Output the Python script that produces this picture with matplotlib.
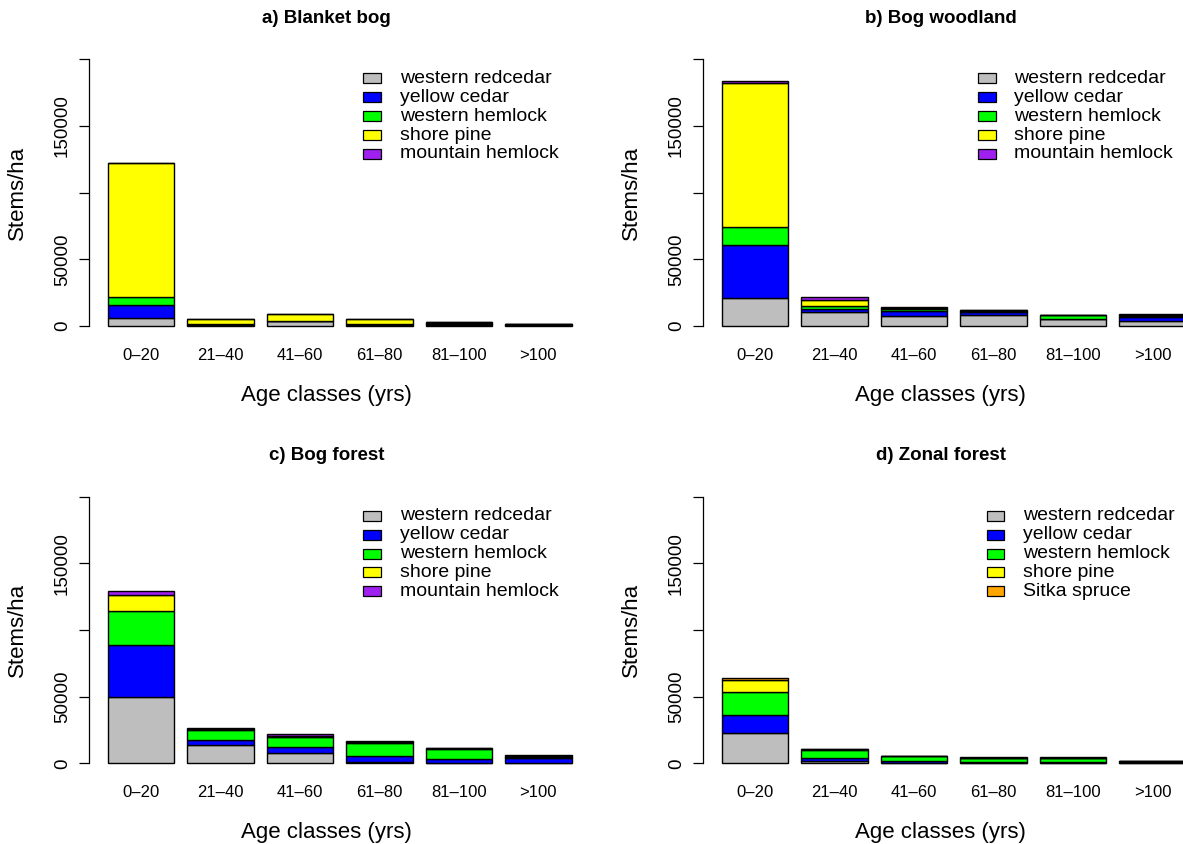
import matplotlib
matplotlib.use("Agg")
import matplotlib.pyplot as plt
from matplotlib.patches import Rectangle

plt.rcParams["font.family"] = ["Liberation Sans", "DejaVu Sans"]

W, H = 1183, 844

age_classes = ["0\u201320", "21\u201340", "41\u201360", "61\u201380", "81\u2013100", ">100"]

# stems/ha per age class, stacked bottom -> top
a_redcedar = [6000, 700, 3500, 700, 800, 500]
a_yellowcedar = [10000, 700, 300, 700, 700, 400]
a_hemlock = [6000, 400, 300, 400, 700, 400]
a_pine = [100000, 3300, 4600, 3400, 500, 200]
a_mtnhemlock = [500, 100, 50, 50, 50, 0]

b_redcedar = [21250, 10300, 7300, 8500, 5000, 3500]
b_yellowcedar = [39500, 2500, 4200, 2200, 500, 3500]
b_hemlock = [13500, 2000, 1500, 600, 2500, 700]
b_pine = [108000, 5000, 600, 400, 300, 800]
b_mtnhemlock = [1250, 2000, 700, 500, 200, 700]

c_redcedar = [49500, 13500, 8000, 1000, 250, 500]
c_yellowcedar = [39000, 4250, 4500, 4250, 2750, 3250]
c_hemlock = [26000, 7000, 7250, 10000, 8000, 1250]
c_pine = [11500, 700, 1000, 700, 300, 500]
c_mtnhemlock = [3000, 800, 1000, 800, 200, 500]

d_redcedar = [23000, 2000, 500, 250, 500, 500]
d_yellowcedar = [13250, 1750, 1250, 750, 500, 500]
d_hemlock = [17000, 6250, 3500, 3000, 3000, 500]
d_pine = [9000, 500, 200, 300, 300, 300]
d_spruce = [2000, 250, 100, 200, 200, 200]

names_main = ["western redcedar", "yellow cedar", "western hemlock", "shore pine", "mountain hemlock"]
names_zonal = ["western redcedar", "yellow cedar", "western hemlock", "shore pine", "Sitka spruce"]

cols_main = ["#BEBEBE", "#0000FF", "#00FF00", "#FFFF00", "#A020F0"]
cols_zonal = ["#BEBEBE", "#0000FF", "#00FF00", "#FFFF00", "#FFA500"]

y_ticks = [0, 50000, 100000, 150000, 200000]
y_ticklabels = ["0", "50000", "", "150000", ""]

# plot region in pixels (left, top, right, bottom); bars may spill past the right edge
panels = [
    ("a) Blanket bog", [a_redcedar, a_yellowcedar, a_hemlock, a_pine, a_mtnhemlock], names_main, cols_main,
     (89.2, 48.6, 564.2, 336.7), 363.3, 400.0),
    ("b) Bog woodland", [b_redcedar, b_yellowcedar, b_hemlock, b_pine, b_mtnhemlock], names_main, cols_main,
     (703.4, 48.6, 1178.4, 336.7), 978.4, 1014.5),
    ("c) Bog forest", [c_redcedar, c_yellowcedar, c_hemlock, c_pine, c_mtnhemlock], names_main, cols_main,
     (89.2, 486.0, 564.2, 774.0), 363.3, 400.0),
    ("d) Zonal forest", [d_redcedar, d_yellowcedar, d_hemlock, d_pine, d_spruce], names_zonal, cols_zonal,
     (703.4, 486.0, 1178.4, 774.0), 986.6, 1023.0),
]

fig = plt.figure(figsize=(W / 100, H / 100), dpi=100)

lefts = [0.2 + 1.2 * i for i in range(len(age_classes))]
centers = [l + 0.5 for l in lefts]

for title, series, names, cols, box, leg_x, txt_x in panels:
    x0, y0, x1, y1 = box
    ax = fig.add_axes([x0 / W, 1 - y1 / H, (x1 - x0) / W, (y1 - y0) / H])

    bottom = [0] * len(age_classes)
    for vals, col in zip(series, cols):
        ax.bar(lefts, vals, width=1.0, bottom=bottom, align="edge",
               color=col, edgecolor="black", linewidth=1.0, clip_on=False)
        bottom = [b + v for b, v in zip(bottom, vals)]

    ax.set_xlim(-0.08, -0.08 + (x1 - x0) / 66.25)
    ax.set_ylim(-8000, 208000)

    for s in ["top", "right", "bottom"]:
        ax.spines[s].set_visible(False)
    ax.spines["left"].set_bounds(0, 200000)
    ax.spines["left"].set_linewidth(0.9)

    ax.set_yticks(y_ticks)
    ax.set_yticklabels(y_ticklabels, rotation=90, va="center", fontsize=13.5)
    ax.tick_params(axis="y", length=7.2, width=0.9, pad=6)

    ax.set_xticks(centers)
    ax.set_xticklabels(age_classes, fontsize=12)
    ax.tick_params(axis="x", length=0, pad=8)

    ax.set_title(title, fontsize=13.5, fontweight="bold", y=1 + 30.5 / (y1 - y0), va="center", pad=0)
    ax.set_xlabel("Age classes (yrs)", fontsize=16, va="center")
    ax.xaxis.set_label_coords(0.5, -58.3 / (y1 - y0))
    ax.set_ylabel("Stems/ha", fontsize=16, va="center")
    ax.yaxis.set_label_coords(-72.2 / (x1 - x0), 0.5)

    # legend (no frame, square keys)
    row_y = y0 + 29.7
    for name, col in zip(names, cols):
        fig.add_artist(Rectangle((leg_x / W, 1 - (row_y + 5) / H), 17.4 / W, 10 / H,
                                 transform=fig.transFigure, facecolor=col,
                                 edgecolor="black", linewidth=0.9))
        fig.text(txt_x / W, 1 - row_y / H, name, fontsize=14, va="center", ha="left")
        row_y += 18.9

plt.savefig("out.png", dpi=100)
